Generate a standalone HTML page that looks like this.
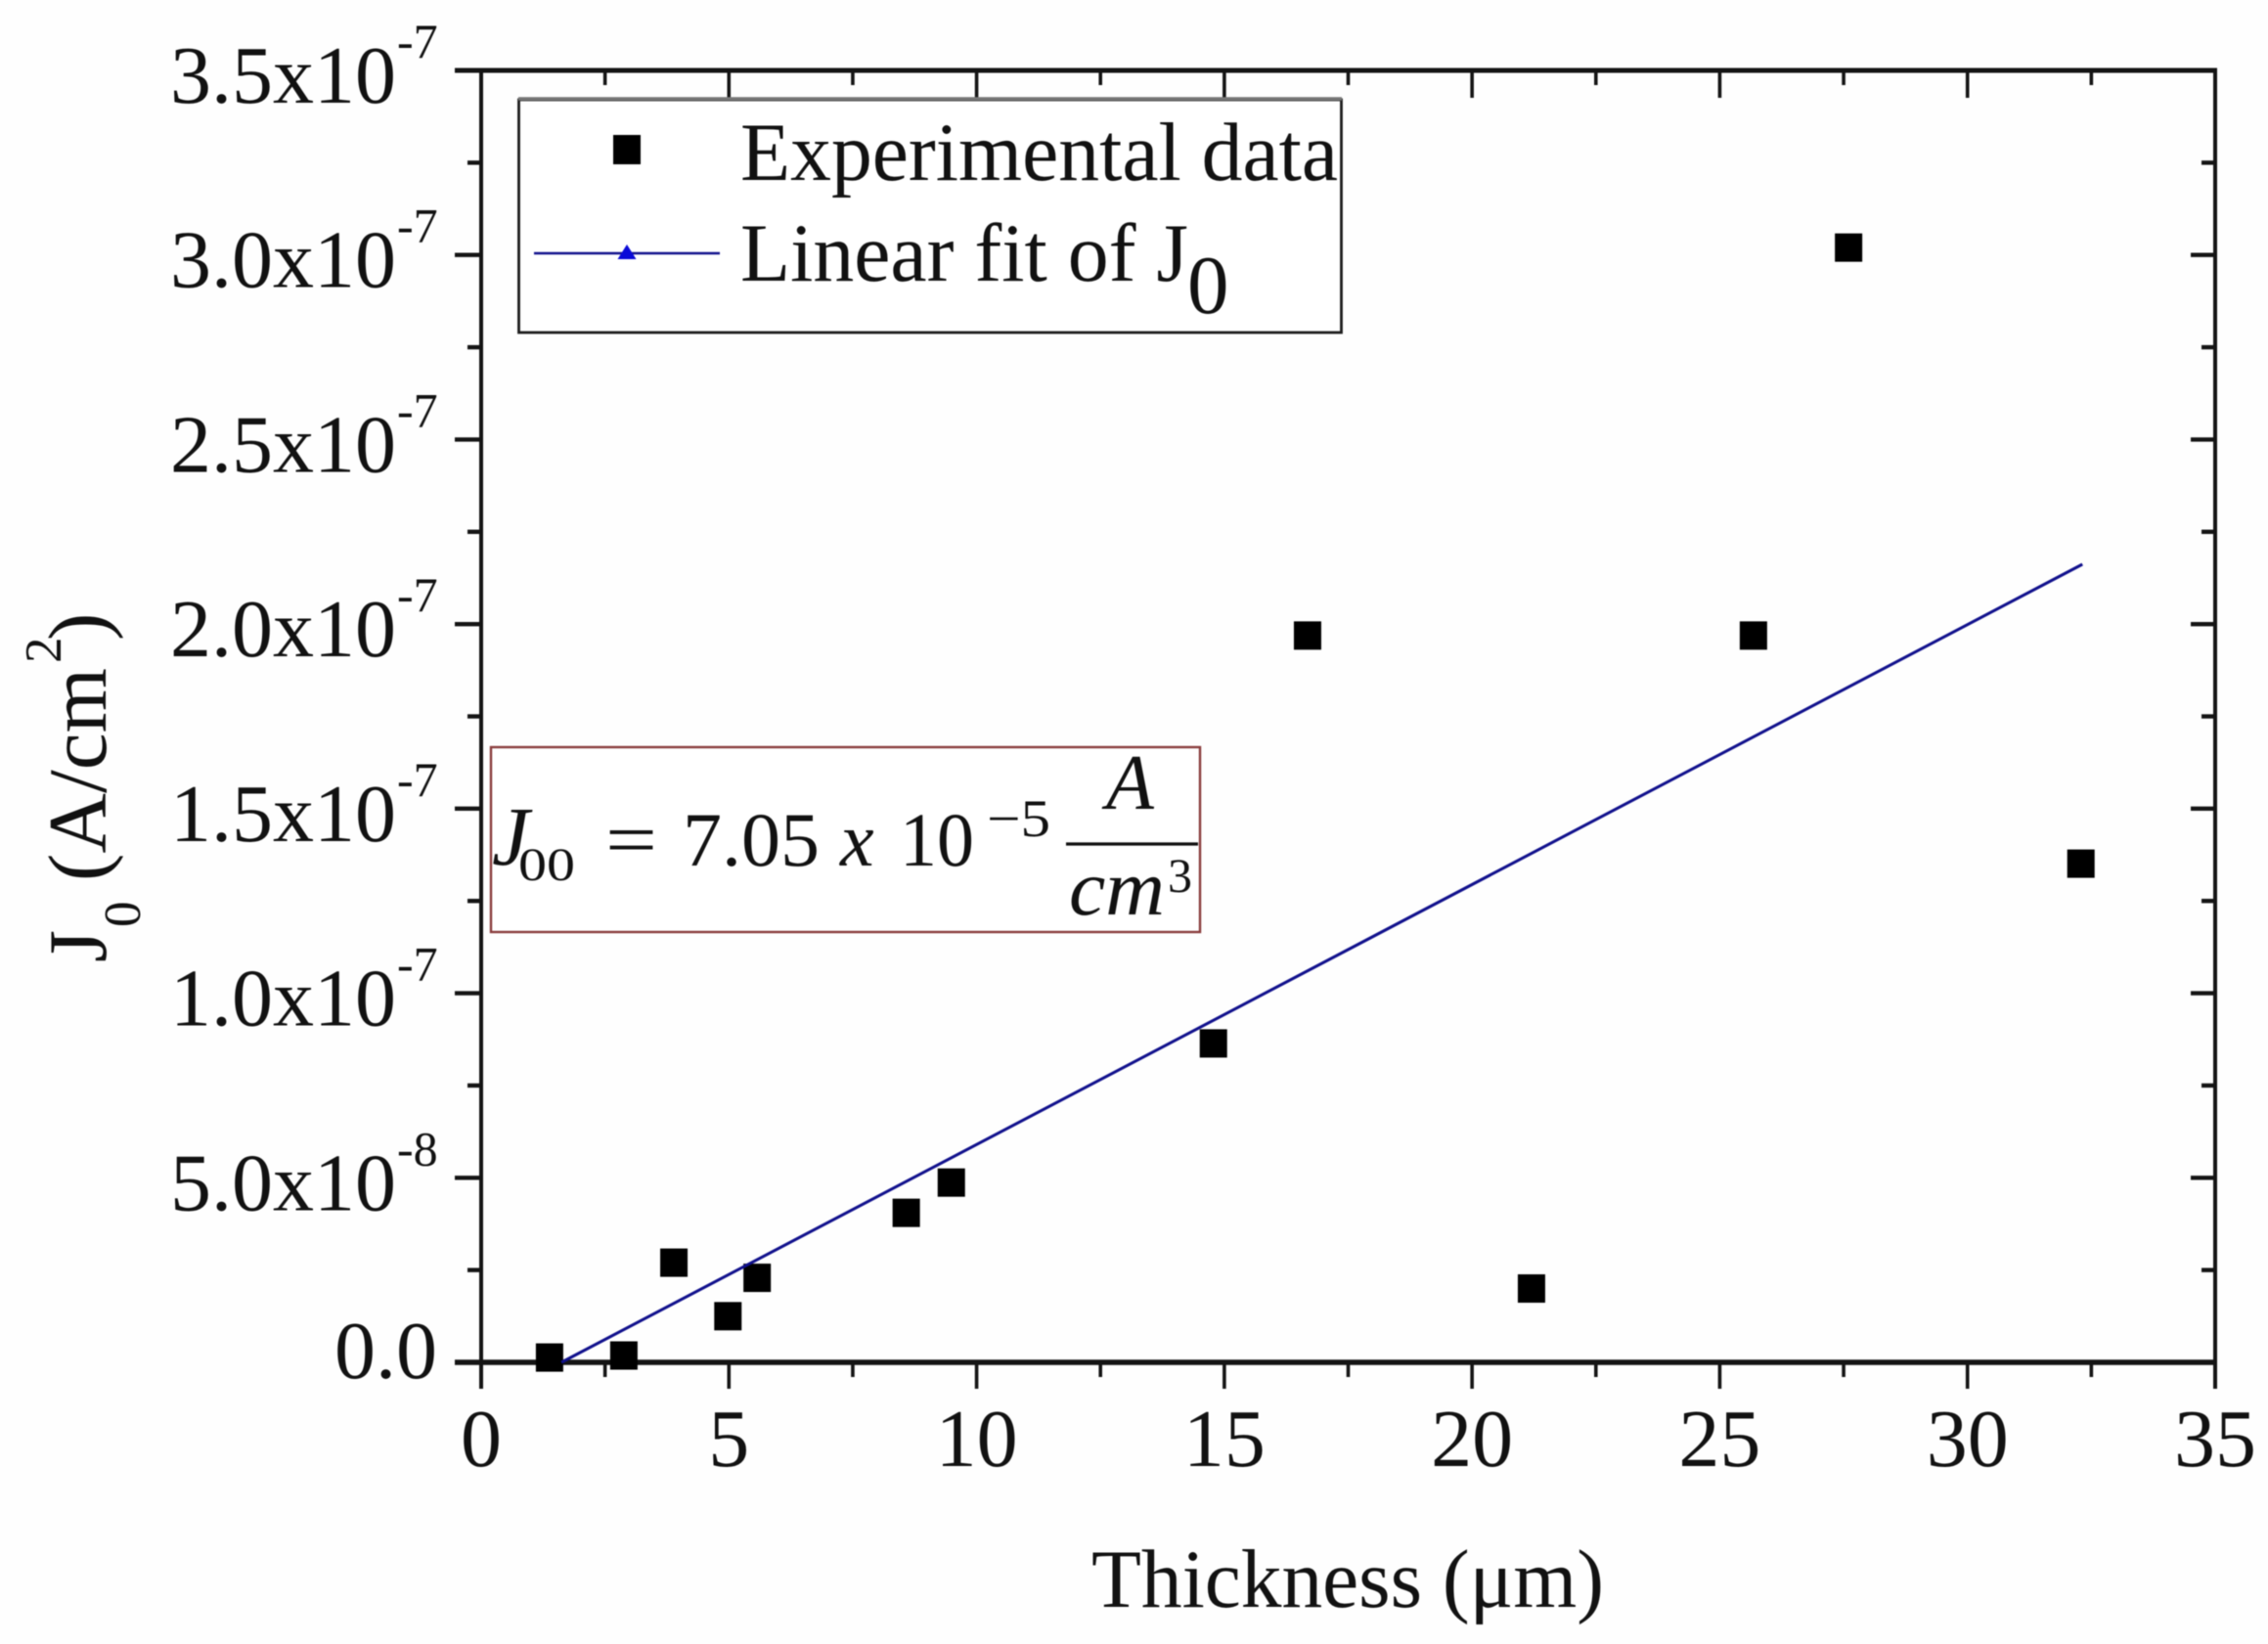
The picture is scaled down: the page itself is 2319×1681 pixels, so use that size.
<!DOCTYPE html>
<html lang="en">
<head>
<meta charset="utf-8">
<title>J0 vs Thickness</title>
<style>
html,body{margin:0;padding:0;background:#fff;}
#chart{display:block;width:2319px;height:1681px;background:#fefefe;filter:blur(0.55px);}
text{font-family:"Liberation Serif","Times New Roman",serif;fill:#111;}
.eq{font-style:normal;}
.it{font-style:italic;}
</style>
</head>
<body>
<svg id="chart" xmlns="http://www.w3.org/2000/svg" width="2319" height="1681" viewBox="0 0 2319 1681">
  <rect x="0" y="0" width="2319" height="1681" fill="#fefefe"/>
  <g id="axes"></g>
  <g id="marks"></g>

  <g>
    <rect x="530.5" y="102" width="841" height="238" fill="#fff" stroke="#1c1c1c" stroke-width="2.8"/>
    <line x1="530" y1="101" x2="1372" y2="101" stroke="#777" stroke-width="3.5"/>
    <rect x="627" y="138" width="28" height="30" fill="#000"/>
    <text x="757" y="184" font-size="85" textLength="611" lengthAdjust="spacingAndGlyphs">Experimental data</text>
    <line x1="546" y1="259" x2="736" y2="259" stroke="#10108c" stroke-width="2.6"/>
    <polygon points="641,250 650.5,265 631.5,265" fill="#0a0ad8"/>
    <text x="757" y="287" font-size="85" textLength="458" lengthAdjust="spacingAndGlyphs">Linear fit of J</text>
    <text x="1214" y="320" font-size="85">0</text>
  </g>

  <g>
    <rect x="502" y="764" width="725" height="189" fill="#fff" stroke="#8a3c3c" stroke-width="2.4"/>
    <text class="it" x="503" y="884" font-size="86">J</text>
    <text x="530" y="900" font-size="48" textLength="58" lengthAdjust="spacingAndGlyphs">00</text>
    <text x="619" y="885" font-size="78" textLength="53" lengthAdjust="spacingAndGlyphs">=</text>
    <text x="698" y="885" font-size="78" textLength="140" lengthAdjust="spacingAndGlyphs">7.05</text>
    <text class="it" x="859" y="885" font-size="78">x</text>
    <text x="920" y="885" font-size="78" textLength="76" lengthAdjust="spacingAndGlyphs">10</text>
    <text x="1009" y="855" font-size="54" textLength="65" lengthAdjust="spacingAndGlyphs">−5</text>
    <line x1="1090" y1="863" x2="1225" y2="863" stroke="#111" stroke-width="3.2"/>
    <text class="it" x="1131" y="827" font-size="80">A</text>
    <text class="it" x="1093" y="935" font-size="80" textLength="98" lengthAdjust="spacingAndGlyphs">cm</text>
    <text x="1194" y="912" font-size="50">3</text>
  </g>

  <text x="1116" y="1643" font-size="85" textLength="524" lengthAdjust="spacingAndGlyphs">Thickness (μm)</text>

  <g>
    <text transform="translate(108 984) rotate(-90)" font-size="85">J</text>
    <text transform="translate(143 948) rotate(-90)" font-size="53">0</text>
    <text transform="translate(108 901) rotate(-90)" font-size="85" textLength="218" lengthAdjust="spacingAndGlyphs">(A/cm</text>
    <text transform="translate(62 678) rotate(-90)" font-size="53">2</text>
    <text transform="translate(108 655) rotate(-90)" font-size="85">)</text>
  </g>
</svg>

<script>
// Chart data (y values in units of 1e-7 A/cm^2)
const thicknessUm = [1.38, 2.88, 3.89, 4.98, 5.57, 8.58, 9.49, 14.78, 16.68, 21.2, 25.68, 27.6, 32.29];
const j0Values = [0.013, 0.0185, 0.27, 0.125, 0.229, 0.405, 0.487, 0.864, 1.969, 0.2, 1.969, 3.02, 1.351];
const fitX = [1.62, 32.32];
const fitY = [0, 2.162];
const xMajorTicks = [0, 5, 10, 15, 20, 25, 30, 35];
const xMinorTicks = [2.5, 7.5, 12.5, 17.5, 22.5, 27.5, 32.5];
const xTickLabels = ["0", "5", "10", "15", "20", "25", "30", "35"];
const yMajorTicks = [0, 0.5, 1, 1.5, 2, 2.5, 3, 3.5];
const yMinorTicks = [0.25, 0.75, 1.25, 1.75, 2.25, 2.75, 3.25];
const yTickLabels = ["0.0", "5.0x10", "1.0x10", "1.5x10", "2.0x10", "2.5x10", "3.0x10", "3.5x10"];
const yTickExponents = ["", "-8", "-7", "-7", "-7", "-7", "-7", "-7"];
const xDomain = [0, 35];
const yDomain = [0, 3.5];

const NS = 'http://www.w3.org/2000/svg';
const plot = { left: 492, right: 2265, top: 72, bottom: 1393 };
function xScale(v) { return plot.left + (v - xDomain[0]) / (xDomain[1] - xDomain[0]) * (plot.right - plot.left); }
function yScale(v) { return plot.bottom - (v - yDomain[0]) / (yDomain[1] - yDomain[0]) * (plot.bottom - plot.top); }
function make(tag, attrs, parent) {
  const n = document.createElementNS(NS, tag);
  for (const k in attrs) n.setAttribute(k, attrs[k]);
  parent.appendChild(n);
  return n;
}
const axes = document.getElementById('axes');
const marks = document.getElementById('marks');
const axisColor = '#141414';

function tickLine(x1, y1, x2, y2, w) {
  return make('line', { x1: x1, y1: y1, x2: x2, y2: y2, stroke: axisColor, 'stroke-width': w }, axes);
}

// X ticks
xMajorTicks.forEach(function (v, i) {
  const x = xScale(v);
  const bottomTick = tickLine(x, plot.bottom, x, plot.bottom + 27, 3.6);
  
  
  const topTick = tickLine(x, plot.top, x, plot.top + 28, 3.6);
  
  
  const label = make('text', { x: x, y: 1499, 'font-size': 84, 'text-anchor': 'middle' }, axes);
  label.textContent = xTickLabels[i];
  
  
});
xMinorTicks.forEach(function (v) {
  const x = xScale(v);
  const bottomTick = tickLine(x, plot.bottom, x, plot.bottom + 15, 3.6);
  
  
  const topTick = tickLine(x, plot.top, x, plot.top + 15, 3.6);
  
  
});

// Y ticks
yMajorTicks.forEach(function (v, i) {
  const y = yScale(v);
  const leftTick = tickLine(plot.left - 27, y, plot.left, y, 4.4);
  
  
  const rightTick = tickLine(plot.right - 25, y, plot.right, y, 4.4);
  
  
  const hasExp = yTickExponents[i] !== '';
  const label = make('text', { x: hasExp ? 405 : 447, y: y + (hasExp ? 33 : 16), 'font-size': 84, 'text-anchor': 'end' }, axes);
  label.textContent = yTickLabels[i];
  
  
  if (hasExp) {
    const exp = make('text', { x: 406, y: y - 13, 'font-size': 50 }, axes);
    exp.textContent = yTickExponents[i];
    
    
  }
});
yMinorTicks.forEach(function (v) {
  const y = yScale(v);
  const leftTick = tickLine(plot.left - 14, y, plot.left, y, 4.4);
  
  
  const rightTick = tickLine(plot.right - 14, y, plot.right, y, 4.4);
  
  
});

// Axis lines
const leftAxis = tickLine(plot.left, plot.top - 2, plot.left, plot.bottom + 27, 4);


const rightAxis = tickLine(plot.right, plot.top - 2, plot.right, plot.bottom + 27, 4);


const topAxis = tickLine(plot.left - 27, plot.top, plot.right + 2, plot.top, 5);


const bottomAxis = tickLine(plot.left - 27, plot.bottom, plot.right + 2, plot.bottom, 5.6);



// Experimental points
thicknessUm.forEach(function (t, i) {
  const square = make('rect', { x: xScale(t) - 14, y: yScale(j0Values[i]) - 14.5, width: 28, height: 29, fill: '#000' }, marks);
  
  
});

// Linear fit
const fitLine = make('polyline', {
  points: fitX.map(function (x, i) { return xScale(x) + ',' + yScale(fitY[i]); }).join(' '),
  fill: 'none', stroke: '#10108c', 'stroke-width': 3
}, marks);


</script>
</body>
</html>
